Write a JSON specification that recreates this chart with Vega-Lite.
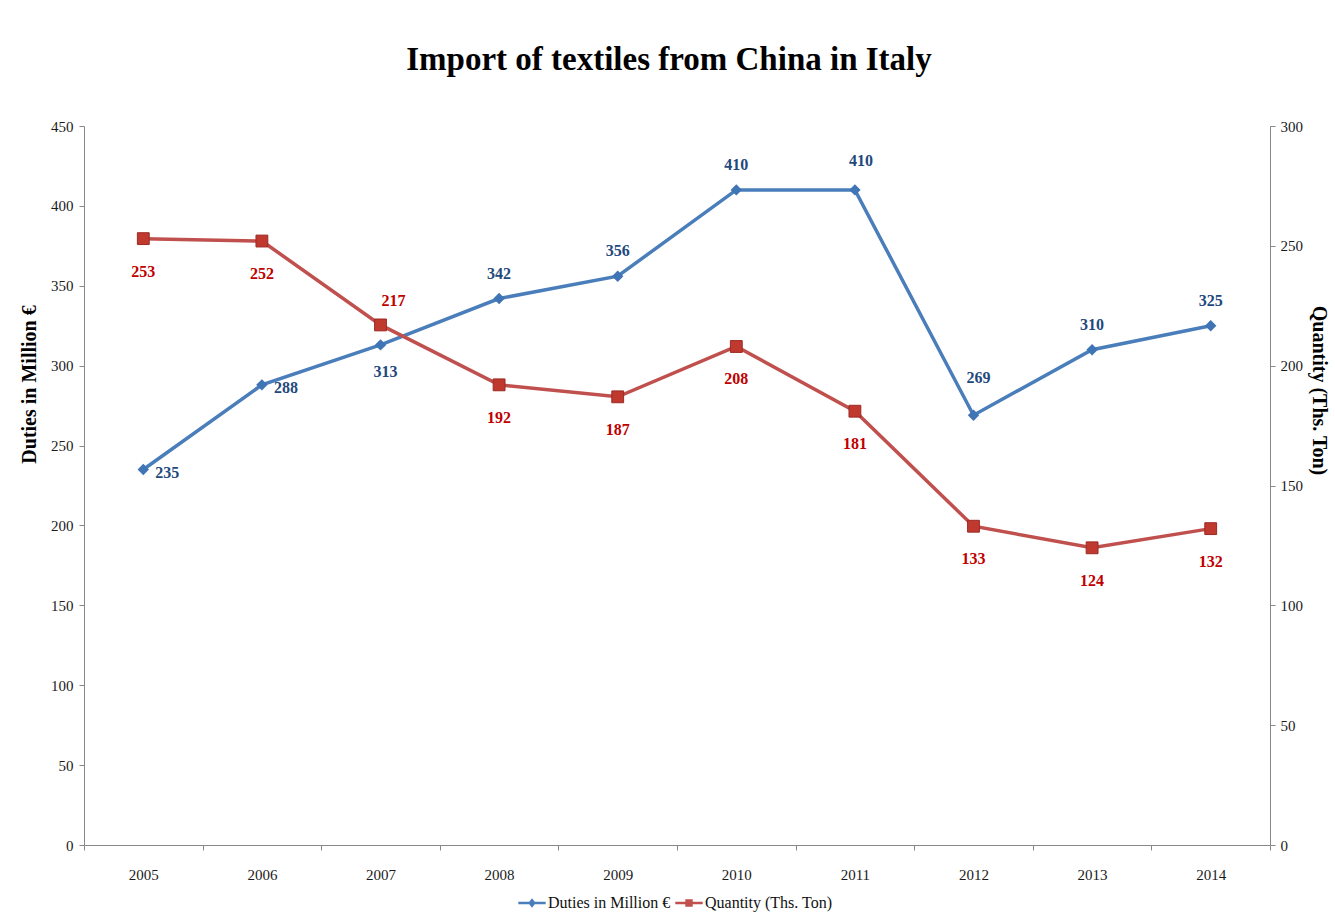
{
  "$schema": "https://vega.github.io/schema/vega-lite/v6.json",
  "width": 1186,
  "height": 719,
  "autosize": {"type": "none"},
  "padding": {"left": 84, "top": 126, "right": 65, "bottom": 67},
  "background": "white",
  "title": {
    "text": "Import of textiles from China in Italy",
    "font": "Liberation Serif",
    "fontSize": 33,
    "fontWeight": "bold",
    "color": "black",
    "offset": 42,
    "anchor": "middle",
    "dx": -8
  },
  "config": {
    "view": {"stroke": null},
    "font": "Liberation Serif",
    "axis": {
      "grid": false,
      "domainColor": "#888888",
      "tickColor": "#888888",
      "tickSize": 5,
      "labelColor": "#1a1a1a",
      "labelFont": "Liberation Serif",
      "labelFontSize": 15,
      "labelOverlap": false,
      "titleFont": "Liberation Serif",
      "titleFontSize": 20,
      "titleFontWeight": "bold",
      "titleColor": "black"
    },
    "legend": {
      "labelFont": "Liberation Serif",
      "labelFontSize": 16,
      "labelColor": "#111111",
      "labelLimit": 400,
      "symbolOpacity": 1,
      "symbolStrokeWidth": 0,
      "columnPadding": 4,
      "labelOffset": 2,
      "title": null
    }
  },
  "data": {
    "values": [
      {"year": "2005", "duties": 235, "quantity": 253},
      {"year": "2006", "duties": 288, "quantity": 252},
      {"year": "2007", "duties": 313, "quantity": 217},
      {"year": "2008", "duties": 342, "quantity": 192},
      {"year": "2009", "duties": 356, "quantity": 187},
      {"year": "2010", "duties": 410, "quantity": 208},
      {"year": "2011", "duties": 410, "quantity": 181},
      {"year": "2012", "duties": 269, "quantity": 133},
      {"year": "2013", "duties": 310, "quantity": 124},
      {"year": "2014", "duties": 325, "quantity": 132}
    ]
  },
  "encoding": {
    "x": {
      "field": "year",
      "type": "ordinal",
      "bandPosition": 0.5,
      "scale": {"type": "band", "paddingInner": 0, "paddingOuter": 0},
      "axis": {"title": null, "labelAngle": 0, "tickBand": "extent", "labelPadding": 17}
    }
  },
  "layer": [
    {
      "encoding": {
        "y": {
          "field": "duties",
          "type": "quantitative",
          "scale": {"domain": [0, 450], "nice": false},
          "axis": {"title": "Duties in Million €", "values": [0, 50, 100, 150, 200, 250, 300, 350, 400, 450], "labelPadding": 6, "titlePadding": 11, "orient": "left", "titleY": 258}
        }
      },
      "layer": [
        {"mark": {"type": "line", "color": "#4A7EBB", "strokeWidth": 3.5}},
        {"mark": {"type": "point", "shape": "diamond", "filled": true, "size": 130, "color": "#3F74B5", "opacity": 1}},
        {
          "mark": {"type": "point", "filled": true, "opacity": 0, "size": 700},
          "encoding": {
            "color": {"datum": "Duties in Million €", "scale": {"domain": ["Duties in Million €", "Quantity (Ths. Ton)"], "range": ["#4A7EBB", "#C0504D"]}, "legend": {"orient": "none", "direction": "horizontal", "legendX": 434, "legendY": 763, "symbolSize": 750}},
            "shape": {"datum": "Duties in Million €", "scale": {"domain": ["Duties in Million €", "Quantity (Ths. Ton)"], "range": ["M-1,-0.1H1V0.1H-1Z M0,-0.34L0.27,0L0,0.34L-0.27,0Z", "M-1,-0.1H1V0.1H-1Z M-0.27,-0.27H0.27V0.27H-0.27Z"]}, "legend": {"orient": "none", "direction": "horizontal", "legendX": 434, "legendY": 763, "symbolSize": 750}}
          }
        },
        {
          "transform": [{"filter": {"field": "year", "oneOf": ["2005", "2006"]}}],
          "mark": {"type": "text", "font": "Liberation Serif", "fontSize": 16, "fontWeight": "bold", "color": "#1F497D", "dx": 24, "dy": 3, "baseline": "middle"},
          "encoding": {"text": {"field": "duties", "type": "quantitative"}}
        },
        {
          "transform": [{"filter": {"field": "year", "oneOf": ["2007"]}}],
          "mark": {"type": "text", "font": "Liberation Serif", "fontSize": 16, "fontWeight": "bold", "color": "#1F497D", "dx": 5, "dy": 27, "baseline": "middle"},
          "encoding": {"text": {"field": "duties", "type": "quantitative"}}
        },
        {
          "transform": [{"filter": {"field": "year", "oneOf": ["2008", "2009", "2010", "2013", "2014"]}}],
          "mark": {"type": "text", "font": "Liberation Serif", "fontSize": 16, "fontWeight": "bold", "color": "#1F497D", "dy": -25, "baseline": "middle"},
          "encoding": {"text": {"field": "duties", "type": "quantitative"}}
        },
        {
          "transform": [{"filter": {"field": "year", "oneOf": ["2011"]}}],
          "mark": {"type": "text", "font": "Liberation Serif", "fontSize": 16, "fontWeight": "bold", "color": "#1F497D", "dx": 6, "dy": -29, "baseline": "middle"},
          "encoding": {"text": {"field": "duties", "type": "quantitative"}}
        },
        {
          "transform": [{"filter": {"field": "year", "oneOf": ["2012"]}}],
          "mark": {"type": "text", "font": "Liberation Serif", "fontSize": 16, "fontWeight": "bold", "color": "#1F497D", "dx": 5, "dy": -37, "baseline": "middle"},
          "encoding": {"text": {"field": "duties", "type": "quantitative"}}
        }
      ]
    },
    {
      "encoding": {
        "y": {
          "field": "quantity",
          "type": "quantitative",
          "scale": {"domain": [0, 300], "nice": false},
          "axis": {"title": "Quantity (Ths. Ton)", "orient": "right", "values": [0, 50, 100, 150, 200, 250, 300], "labelPadding": 5, "titlePadding": 6, "titleAngle": 90, "titleY": 264}
        }
      },
      "layer": [
        {"mark": {"type": "line", "color": "#C0504D", "strokeWidth": 3.5}},
        {"mark": {"type": "point", "shape": "square", "filled": true, "size": 140, "color": "#C0392F", "stroke": "#9C2A25", "strokeWidth": 1, "opacity": 1}},
        {
          "mark": {"type": "point", "filled": true, "opacity": 0, "size": 700},
          "encoding": {
            "color": {"datum": "Quantity (Ths. Ton)", "scale": {"domain": ["Duties in Million €", "Quantity (Ths. Ton)"], "range": ["#4A7EBB", "#C0504D"]}, "legend": {"orient": "none", "direction": "horizontal", "legendX": 434, "legendY": 763, "symbolSize": 750}},
            "shape": {"datum": "Quantity (Ths. Ton)", "scale": {"domain": ["Duties in Million €", "Quantity (Ths. Ton)"], "range": ["M-1,-0.1H1V0.1H-1Z M0,-0.34L0.27,0L0,0.34L-0.27,0Z", "M-1,-0.1H1V0.1H-1Z M-0.27,-0.27H0.27V0.27H-0.27Z"]}, "legend": {"orient": "none", "direction": "horizontal", "legendX": 434, "legendY": 763, "symbolSize": 750}}
          }
        },
        {
          "transform": [{"filter": {"field": "year", "oneOf": ["2005", "2006", "2008", "2009", "2010", "2011", "2012", "2013", "2014"]}}],
          "mark": {"type": "text", "font": "Liberation Serif", "fontSize": 16, "fontWeight": "bold", "color": "#C00000", "dy": 33, "baseline": "middle"},
          "encoding": {"text": {"field": "quantity", "type": "quantitative"}}
        },
        {
          "transform": [{"filter": {"field": "year", "oneOf": ["2007"]}}],
          "mark": {"type": "text", "font": "Liberation Serif", "fontSize": 16, "fontWeight": "bold", "color": "#C00000", "dx": 13, "dy": -24, "baseline": "middle"},
          "encoding": {"text": {"field": "quantity", "type": "quantitative"}}
        }
      ]
    }
  ],
  "resolve": {"scale": {"y": "independent"}}
}
